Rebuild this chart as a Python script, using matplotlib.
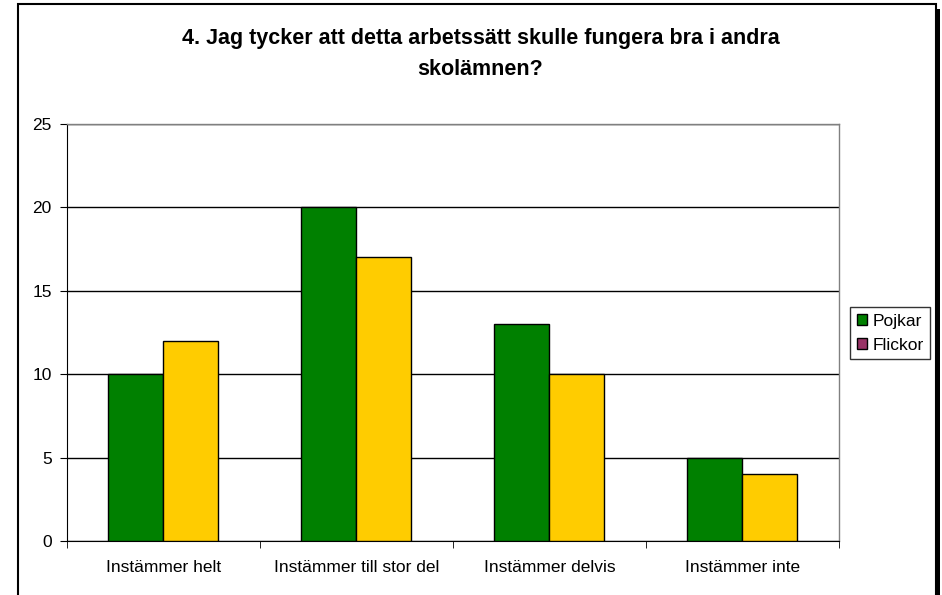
import numpy as np
import matplotlib.pyplot as plt
from matplotlib.patches import Rectangle, Patch

plt.rcParams['font.family'] = ['Liberation Sans', 'DejaVu Sans']

# Data
categories = ['Instämmer helt', 'Instämmer till stor del', 'Instämmer delvis', 'Instämmer inte']
pojkar = [10, 20, 13, 5]
flickor = [12, 17, 10, 4]
title = '4. Jag tycker att detta arbetssätt skulle fungera bra i andra\nskolämnen?'

fig = plt.figure(figsize=(9.42, 5.95), dpi=100)
ax = fig.add_axes([0.0711, 0.0908, 0.8195, 0.701])

x = np.arange(len(categories))
w = 0.285
ax.bar(x - w / 2, pojkar, w, color='#008000', edgecolor='black', linewidth=1, zorder=3)
ax.bar(x + w / 2, flickor, w, color='#FFCC00', edgecolor='black', linewidth=1, zorder=3)

ax.set_xlim(-0.5, len(categories) - 0.5)
ax.set_ylim(0, 25)
ax.set_yticks(range(0, 26, 5))
ax.yaxis.grid(True, color='black', linewidth=1, zorder=0)
ax.set_xticks(np.arange(len(categories) + 1) - 0.5, minor=True)
ax.set_xticks(x)
ax.set_xticklabels(categories, fontsize=12.5)
ax.tick_params(axis='x', which='major', length=0, pad=14)
ax.tick_params(axis='x', which='minor', length=5, direction='out', color='black')
ax.tick_params(axis='y', labelsize=12.5, length=5, direction='out', pad=6)
for s in ['top', 'right']:
    ax.spines[s].set_color('#808080')
    ax.spines[s].set_linewidth(1)
ax.spines['left'].set_color('black')
ax.spines['bottom'].set_color('black')

fig.text(0.51, 0.909, title, ha='center', va='center', fontsize=15.5, fontweight='bold', linespacing=1.6)

handles = [Patch(facecolor='#008000', edgecolor='black', label='Pojkar'),
           Patch(facecolor='#993366', edgecolor='black', label='Flickor')]
leg = fig.legend(handles=handles, loc='center left', bbox_to_anchor=(0.902, 0.44),
                 fontsize=12.5, frameon=True, fancybox=False, edgecolor='black',
                 handlelength=0.6, handleheight=0.6, handletextpad=0.3,
                 borderaxespad=0, borderpad=0.4, labelspacing=0.5)
leg.get_frame().set_linewidth(1)

# figure frame with shadow on the right
fig.patches.append(Rectangle((18 / 942, -0.01), 918 / 942, 1.01 - 4 / 595, transform=fig.transFigure,
                             fill=False, edgecolor='black', linewidth=1.5))
fig.patches.append(Rectangle((936 / 942, 0.0), 4 / 942, 1 - 9 / 595, transform=fig.transFigure,
                             facecolor='black', edgecolor='none'))

fig.savefig('out.png', dpi=100)
